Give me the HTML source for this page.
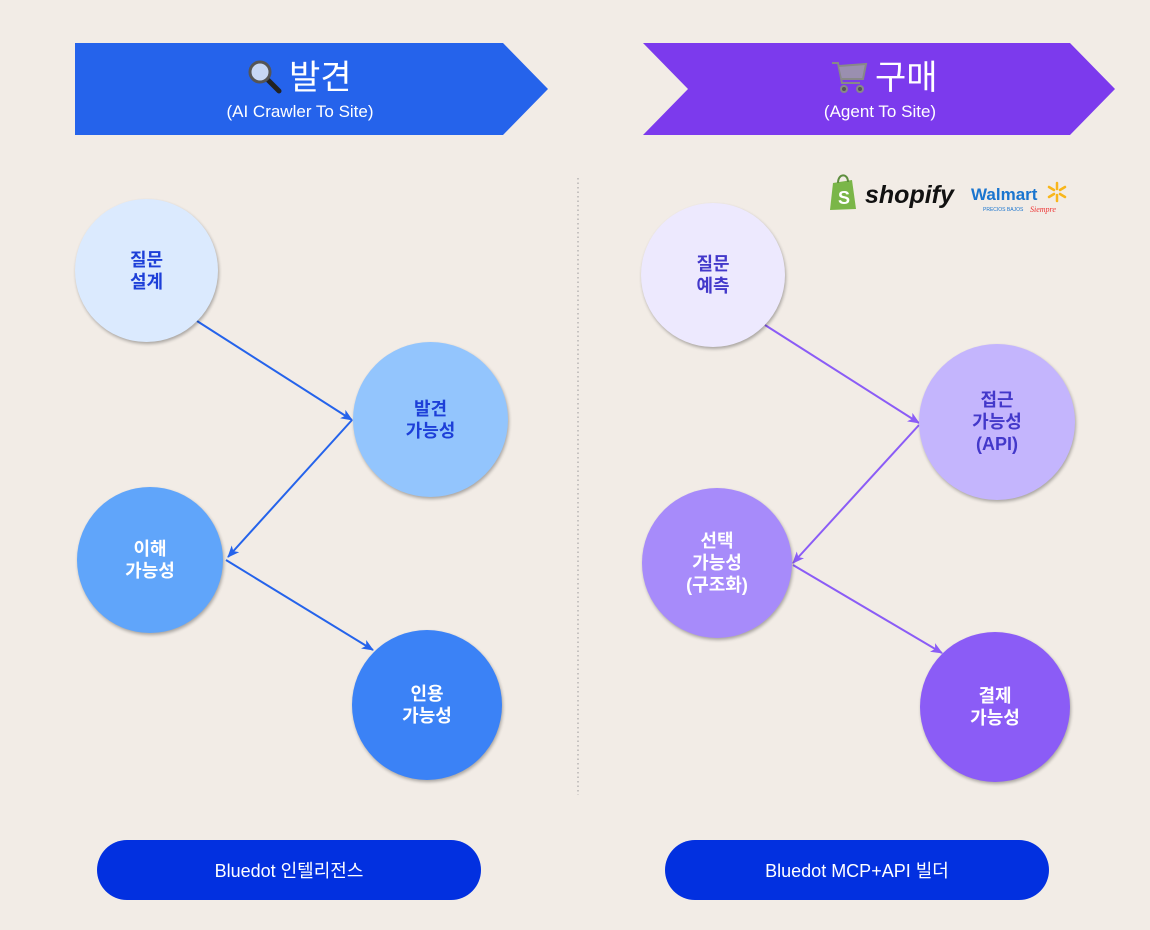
<!DOCTYPE html>
<html><head><meta charset="utf-8"><style>
html,body{margin:0;padding:0;background:#f2ece6;}
body{width:1150px;height:930px;position:relative;overflow:hidden;font-family:"Liberation Sans","Noto Sans CJK KR",sans-serif;}
.t{position:absolute;color:#fff;text-align:center;}
.c{position:absolute;border-radius:50%;display:flex;align-items:center;justify-content:center;text-align:center;font-weight:bold;font-size:18px;line-height:22px;box-shadow:1px 2px 3px rgba(0,0,0,0.3);}
.btn{position:absolute;top:840px;height:60px;width:384px;border-radius:30px;background:#0230e0;color:#fff;font-size:18px;display:flex;align-items:center;justify-content:center;}
</style></head><body>
<svg width="1150" height="930" style="position:absolute;left:0;top:0">
<defs>
<marker id="ab" markerWidth="12" markerHeight="10" refX="11" refY="5" orient="auto" markerUnits="userSpaceOnUse"><path d="M0,0 L12,5 L0,10 L3,5 z" fill="#2563eb"/></marker>
<marker id="ap" markerWidth="12" markerHeight="10" refX="11" refY="5" orient="auto" markerUnits="userSpaceOnUse"><path d="M0,0 L12,5 L0,10 L3,5 z" fill="#8b5cf6"/></marker>
</defs>
<polygon points="75,43 503,43 548,89 503,135 75,135" fill="#2563eb"/>
<polygon points="643,43 1070,43 1115,89 1070,135 643,135 688,89" fill="#7c3aed"/>
<line x1="578" y1="178" x2="578" y2="795" stroke="#999" stroke-width="1" stroke-dasharray="1.5,3"/>
<g stroke="#2563eb" stroke-width="2" fill="none">
<line x1="197" y1="321" x2="352" y2="420" marker-end="url(#ab)"/>
<line x1="352" y1="420" x2="228" y2="557" marker-end="url(#ab)"/>
<line x1="226" y1="560" x2="373" y2="650" marker-end="url(#ab)"/>
</g>
<g stroke="#8b5cf6" stroke-width="2" fill="none">
<line x1="765" y1="325" x2="919" y2="423" marker-end="url(#ap)"/>
<line x1="919" y1="425" x2="793" y2="563" marker-end="url(#ap)"/>
<line x1="793" y1="565" x2="942" y2="653" marker-end="url(#ap)"/>
</g>
<g transform="translate(248,60)">
<line x1="20" y1="20" x2="31" y2="31" stroke="#222" stroke-width="5" stroke-linecap="round"/>
<circle cx="12" cy="12" r="10" fill="#c7d7f5" stroke="#555" stroke-width="3"/>
</g>
<g transform="translate(830,57)" stroke="#888" stroke-width="2" fill="none">
<path d="M2,6 L8,6 L12,26 L30,26"/>
<path d="M9,9 L36,7 L33,22 L12,22" fill="#9a8fb0"/>
<circle cx="14" cy="32" r="3" fill="#555"/><circle cx="30" cy="32" r="3" fill="#555"/>
</g>
<g transform="translate(830,173)">
<path d="M3,10 L22,7 L26,36 L0,37 z" fill="#7ab648"/>
<path d="M8,10 C8,0 18,0 18,9" stroke="#5e8e3e" stroke-width="2" fill="none"/>
<text x="8" y="31" font-size="18" font-weight="bold" fill="#fff" font-family="Liberation Sans">S</text>
</g>
<text x="865" y="203" font-size="25" font-weight="bold" font-style="italic" fill="#111" font-family="Liberation Sans">shopify</text>
<text x="971" y="200" font-size="17" font-weight="bold" fill="#1a75cf" font-family="Liberation Sans">Walmart</text>
<text x="983" y="211" font-size="5" fill="#1a75cf" font-family="Liberation Sans">PRECIOS BAJOS</text>
<text x="1030" y="212" font-size="8" font-style="italic" fill="#e33" font-family="Liberation Serif">Siempre</text>
<g stroke="#f8b61c" stroke-width="2.5" stroke-linecap="round" transform="translate(1057,192)">
<line x1="0" y1="-3" x2="0" y2="-9"/><line x1="0" y1="3" x2="0" y2="9"/>
<line x1="3" y1="-2" x2="8" y2="-5"/><line x1="-3" y1="-2" x2="-8" y2="-5"/>
<line x1="3" y1="2" x2="8" y2="5"/><line x1="-3" y1="2" x2="-8" y2="5"/>
</g>
</svg>
<div class="t" style="left:289px;top:58px;width:100px;font-size:34px;line-height:40px;text-align:left">발견</div>
<div class="t" style="left:75px;top:102px;width:450px;font-size:17px">(AI Crawler To Site)</div>
<div class="t" style="left:875px;top:58px;width:100px;font-size:34px;line-height:40px;text-align:left">구매</div>
<div class="t" style="left:655px;top:102px;width:450px;font-size:17px">(Agent To Site)</div>

<div class="c" style="left:75px;top:199px;width:143px;height:143px;background:#dbeafe;color:#1d3fd8">질문<br>설계</div>
<div class="c" style="left:353px;top:342px;width:155px;height:155px;background:#93c5fd;color:#1d3fd8">발견<br>가능성</div>
<div class="c" style="left:77px;top:487px;width:146px;height:146px;background:#60a5fa;color:#fff">이해<br>가능성</div>
<div class="c" style="left:352px;top:630px;width:150px;height:150px;background:#3b82f6;color:#fff">인용<br>가능성</div>

<div class="c" style="left:641px;top:203px;width:144px;height:144px;background:#ede9fe;color:#4338ca">질문<br>예측</div>
<div class="c" style="left:919px;top:344px;width:156px;height:156px;background:#c4b5fd;color:#4338ca">접근<br>가능성<br>(API)</div>
<div class="c" style="left:642px;top:488px;width:150px;height:150px;background:#a78bfa;color:#fff">선택<br>가능성<br>(구조화)</div>
<div class="c" style="left:920px;top:632px;width:150px;height:150px;background:#8b5cf6;color:#fff">결제<br>가능성</div>

<div class="btn" style="left:97px">Bluedot 인텔리전스</div>
<div class="btn" style="left:665px">Bluedot MCP+API 빌더</div>
</body></html>
